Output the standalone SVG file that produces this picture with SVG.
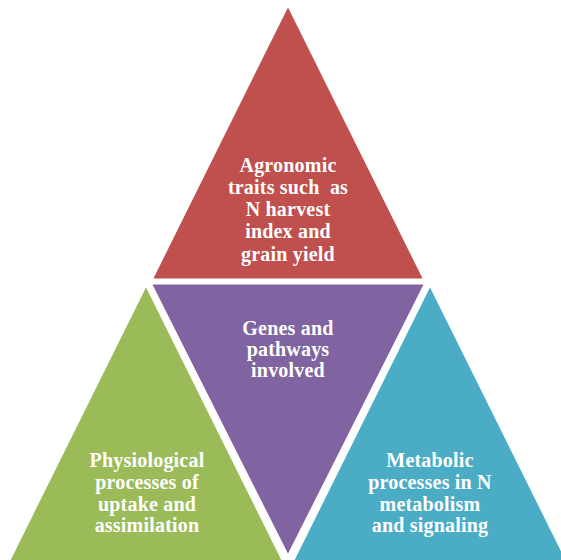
<svg xmlns="http://www.w3.org/2000/svg" width="561" height="560" viewBox="0 0 561 560">
<style>
.t{font-family:"Liberation Serif","Times New Roman",serif;font-weight:bold;font-size:20px;fill:#fff;text-anchor:middle;letter-spacing:0.2px}
.s{stroke:#fff;stroke-width:3;stroke-linejoin:miter}
</style>
<rect width="561" height="560" fill="#fff"/>
<g id="top">
<polygon class="s" points="288,4 425,280 151,280" fill="#C0504D"/>
<text class="t" xml:space="preserve"><tspan x="288" y="172">Agronomic</tspan><tspan x="288" y="194">traits such  as</tspan><tspan x="288" y="216">N harvest</tspan><tspan x="288" y="238">index and</tspan><tspan x="288" y="261">grain yield</tspan></text>
</g>
<g id="center">
<polygon class="s" points="150,283 426,283 288,557" fill="#8064A2"/>
<text class="t"><tspan x="288" y="335">Genes and</tspan><tspan x="288" y="356">pathways</tspan><tspan x="288" y="377">involved</tspan></text>
</g>
<g id="left">
<polygon class="s" points="146,284 284,562 8,562" fill="#9BBB59"/>
<text class="t"><tspan x="147" y="467">Physiological</tspan><tspan x="147" y="489">processes of</tspan><tspan x="147" y="511">uptake and</tspan><tspan x="147" y="532">assimilation</tspan></text>
</g>
<g id="right">
<polygon class="s" points="430,284 568,562 292,562" fill="#4BACC6"/>
<text class="t"><tspan x="430" y="467">Metabolic</tspan><tspan x="430" y="489">processes in N</tspan><tspan x="430" y="511">metabolism</tspan><tspan x="430" y="532">and signaling</tspan></text>
</g>
<g id="connectors"/>
</svg>
